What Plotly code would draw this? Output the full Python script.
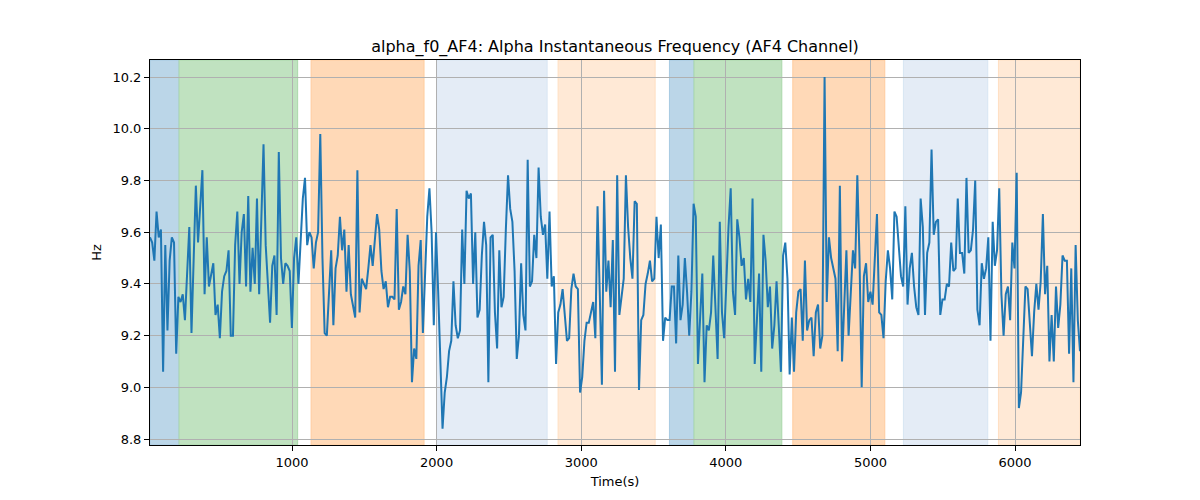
import numpy as np
import plotly.graph_objects as go

# Frecuencia instantánea alfa (Hz)
alpha_hz = [
    9.58, 9.56, 9.49, 9.68, 9.58, 9.61, 9.06, 9.55, 9.22, 9.49,
    9.58, 9.56, 9.13, 9.35, 9.33, 9.36, 9.26, 9.44, 9.62, 9.21,
    9.50, 9.78, 9.56, 9.70, 9.84, 9.36, 9.58, 9.39, 9.43, 9.48,
    9.28, 9.32, 9.19, 9.37, 9.43, 9.45, 9.53, 9.20, 9.20, 9.55,
    9.68, 9.40, 9.60,
    9.67, 9.39, 9.74, 9.37, 9.54, 9.40, 9.73, 9.36, 9.65, 9.94, 9.55,
    9.37, 9.25, 9.47, 9.51, 9.28, 9.91, 9.50, 9.40, 9.48, 9.47,
    9.45, 9.23, 9.50, 9.58, 9.40, 9.56, 9.73, 9.81, 9.55, 9.60,
    9.58, 9.46, 9.56, 9.60, 9.98, 9.50, 9.21, 9.20, 9.35, 9.53, 9.24,
    9.46, 9.51, 9.66, 9.53, 9.61, 9.37, 9.55, 9.36, 9.32, 9.27,
    9.84, 9.29, 9.42, 9.40, 9.38, 9.46, 9.55, 9.47, 9.57, 9.67,
    9.61, 9.45, 9.38, 9.41, 9.31, 9.35, 9.35, 9.34, 9.69, 9.30,
    9.33, 9.39, 9.36, 9.59, 9.45, 9.02, 9.15, 9.11, 9.47, 9.57, 9.21, 9.47,
    9.66, 9.77, 9.60, 9.24, 9.60, 9.37, 9.14, 8.84, 8.98, 9.04,
    9.14, 9.18, 9.41, 9.24, 9.19, 9.22, 9.61, 9.40, 9.76, 9.73,
    9.75, 9.40, 9.60, 9.27, 9.30, 9.51, 9.64, 9.55, 9.02, 9.58,
    9.59, 9.29, 9.15, 9.53, 9.31, 9.35, 9.61, 9.82, 9.69, 9.64, 9.45,
    9.11, 9.20, 9.48, 9.28, 9.22, 9.88, 9.39, 9.41, 9.59, 9.50,
    9.85, 9.66, 9.59, 9.63, 9.42, 9.68, 9.39, 9.43, 9.09, 9.29,
    9.32, 9.38, 9.28, 9.18, 9.19, 9.38, 9.44, 9.39, 9.38, 8.98,
    9.04, 9.18, 9.25, 9.25, 9.29, 9.33, 9.19, 9.70, 9.37, 9.01, 9.76, 9.37,
    9.49, 9.31, 9.57, 9.06, 9.82, 9.28, 9.35, 9.42, 9.82, 9.62,
    9.50, 9.42, 9.72, 9.71, 8.99, 9.26, 9.28, 9.40, 9.44, 9.49,
    9.41, 9.42, 9.66, 9.50, 9.63, 9.18, 9.27, 9.26, 9.26, 9.39,
    9.39, 9.17, 9.51, 9.26, 9.32, 9.50, 9.37, 9.20, 9.37, 9.71, 9.66, 9.09,
    9.27, 9.44, 9.02, 9.24, 9.22, 9.29, 9.51, 9.28, 9.11, 9.64,
    9.29, 9.19, 9.44, 9.62, 9.77, 9.37, 9.28, 9.65, 9.58, 9.47,
    9.50, 9.34, 9.42, 9.33, 9.73, 9.09, 9.26, 9.44, 9.06, 9.59,
    9.49, 9.31, 9.39, 9.15, 9.24, 9.41, 9.24, 9.06, 9.51, 9.56, 9.42, 9.05,
    9.27, 9.06, 9.29, 9.37, 9.38, 9.18, 9.49, 9.22, 9.26, 9.27,
    9.12, 9.29, 9.32, 9.15, 9.20, 10.20, 9.33, 9.58, 9.50, 9.46,
    9.42, 9.14, 9.78, 9.10, 9.36, 9.53, 9.20, 9.38, 9.53, 9.46,
    9.82, 9.50, 9.00, 9.43, 9.48, 9.33, 9.37, 9.32, 9.53, 9.67, 9.29, 9.28, 9.19,
    9.41, 9.53, 9.46, 9.34, 9.68, 9.66, 9.55, 9.43, 9.39, 9.70,
    9.32, 9.46, 9.52, 9.39, 9.31, 9.28, 9.73, 9.62, 9.28, 9.52,
    9.56, 9.92, 9.59, 9.64, 9.65, 9.28, 9.34, 9.34, 9.40, 9.39,
    9.56, 9.45, 9.46, 9.73, 9.52, 9.52, 9.44, 9.81, 9.52, 9.53,
    9.61, 9.80, 9.30, 9.24, 9.48, 9.42, 9.46, 9.58, 9.18, 9.64,
    9.47, 9.53, 9.77, 9.36, 9.20, 9.36, 9.39, 9.26, 9.56, 9.46,
    9.83, 8.92, 8.98, 9.18, 9.39, 9.38, 9.26, 9.12, 9.29, 9.40,
    9.30, 9.41, 9.67, 9.36, 9.47, 9.10, 9.28, 9.10, 9.39, 9.23,
    9.32, 9.51, 9.49, 9.49, 9.13, 9.46, 9.02, 9.55, 9.26, 9.14,
]
t_inicio, t_fin = 18, 6449
tiempo = np.linspace(t_inicio, t_fin, len(alpha_hz))

# Bloques del protocolo (inicio, fin, relleno, borde)
bloques_inicio = [18, 219, 1132, 2000, 2840, 3610, 3780, 4463, 5228, 5885]
bloques_fin = [219, 1039, 1913, 2764, 3511, 3780, 4387, 5099, 5811, 6449]
bloques_color = ["#bbd6e8", "#c0e2c0", "#ffd9b7", "#e4ecf6", "#ffe9d6",
                 "#bbd6e8", "#c0e2c0", "#ffd9b7", "#e4ecf6", "#ffe9d6"]
bloques_borde = ["#a6c9e1", "#aad8aa", "#ffcc9e", "#d8e5f2", "#ffdfc2",
                 "#a6c9e1", "#aad8aa", "#ffcc9e", "#d8e5f2", "#ffdfc2"]

fig = go.Figure()
fig.add_trace(go.Scatter(x=tiempo, y=alpha_hz, mode="lines",
                         line=dict(color="#1f77b4", width=2), showlegend=False))

for x0, x1, c, b in zip(bloques_inicio, bloques_fin, bloques_color, bloques_borde):
    fig.add_vrect(x0=x0, x1=x1, fillcolor=c, opacity=1, layer="below",
                  line=dict(color=b, width=1))

eje = dict(showline=True, linecolor="black", linewidth=1, mirror=True,
           ticks="outside", ticklen=5, tickcolor="black",
           showgrid=True, gridcolor="#b0b0b0", gridwidth=1, zeroline=False,
           tickfont=dict(family="DejaVu Sans", size=13, color="black"))

# la página añade 8 px de margen al cuerpo: se compensa en los márgenes
fig.update_layout(
    width=1200, height=500,
    margin=dict(l=142, r=128, t=52, b=63),
    plot_bgcolor="white", paper_bgcolor="white",
    font=dict(family="DejaVu Sans", size=13, color="black"),
    title=dict(text="alpha_f0_AF4: Alpha Instantaneous Frequency (AF4 Channel)",
               x=0.5, xref="paper", xanchor="center", y=0.924, yanchor="middle",
               font=dict(size=16, color="black")),
    xaxis=dict(eje, range=[t_inicio, t_fin], tickvals=[1000, 2000, 3000, 4000, 5000, 6000],
               title=dict(text="Time(s)", standoff=8, font=dict(size=13))),
    yaxis=dict(eje, range=[8.777, 10.266], tickvals=[8.8, 9.0, 9.2, 9.4, 9.6, 9.8, 10.0, 10.2],
               ticktext=["8.8", "9.0", "9.2", "9.4", "9.6", "9.8", "10.0", "10.2"],
               title=dict(text="Hz", standoff=7, font=dict(size=13))),
)

fig.write_html("out.html")
